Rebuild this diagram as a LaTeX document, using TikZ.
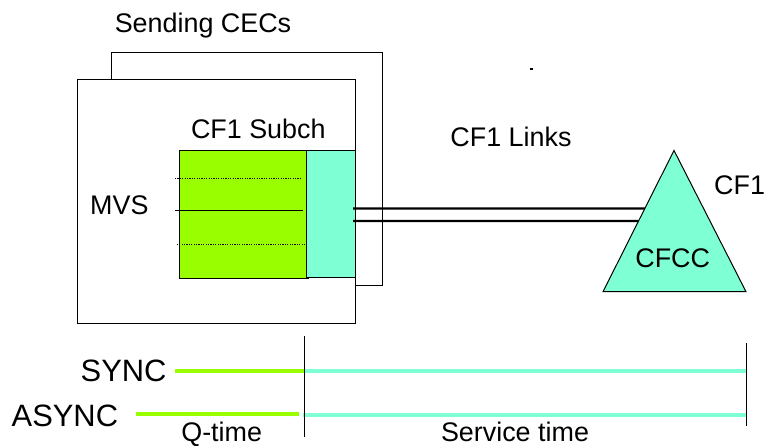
\documentclass[tikz,border=0pt]{standalone}
\usepackage{fontspec}
\setmainfont{Liberation Sans}
\usetikzlibrary{calc}
\definecolor{limegr}{RGB}{153,255,0}
\definecolor{aqua}{RGB}{127,255,212}
\tikzset{
  lbl/.style={inner sep=0pt, anchor=base, font=\fontsize{27}{30}\selectfont},
  biglbl/.style={inner sep=0pt, anchor=base east, font=\fontsize{31}{34}\selectfont},
  thin/.style={draw=black, line width=1bp},
  link/.style={draw=black, line width=2.4bp},
  qline/.style={draw=limegr, line width=3.6bp},
  sline/.style={draw=aqua, line width=4bp},
}
\begin{document}
\begin{tikzpicture}[x=1bp,y=-1bp]
\useasboundingbox (0,0) rectangle (765,446);
% back CEC box (partially hidden)
\coordinate (bk1) at (111.7,79.3);
\coordinate (bk2) at (111.7,52.7);
\coordinate (bk3) at (382.3,52.7);
\coordinate (bk4) at (382.3,286);
\coordinate (bk5) at (353,286);
\draw[thin] (bk1) -- (bk2) -- (bk3) -- (bk4) -- (bk5);
% front CEC box
\draw[thin, fill=white] (77.3,79.3) coordinate (fr1) rectangle (355.3,323.3) coordinate (fr2);
% subchannel boxes
\draw[thin, fill=limegr] (179.3,151) rectangle (308.3,278.3);
\draw[thin, fill=aqua] (306.7,151) rectangle (355.3,277.3);
\coordinate (d1a) at (175,179);   \coordinate (d1b) at (302,179);
\coordinate (s1a) at (175,210.7); \coordinate (s1b) at (303,210.7);
\coordinate (d2a) at (176.7,245); \coordinate (d2b) at (307,245);
\draw[black, line width=1bp, dash pattern=on 1.2bp off 1.2bp] (d1a) -- (d1b);
\draw[thin] (s1a) -- (s1b);
\draw[black, line width=1bp, dash pattern=on 1.2bp off 1.2bp] (d2a) -- (d2b);
% CF triangle
\coordinate (apex) at (674,150.5);
\coordinate (bl) at (603,291.7);
\coordinate (br) at (746,291.7);
\draw[thin, fill=aqua] (apex) -- (bl) -- (br) -- cycle;
% links
\coordinate (l1a) at (353,208.5);
\coordinate (l2a) at (353,221);
\coordinate (l1b) at ($(apex)!0.4108!(bl)$);
\coordinate (l2b) at ($(apex)!0.4993!(bl)$);
\draw[link] (l1a) -- (l1b);
\draw[link] (l2a) -- (l2b);
% tiny mark
\coordinate (m1) at (529.5,69);
\coordinate (m2) at (533,69);
\draw[black, line width=1.3bp] (m1) -- (m2);
% labels
\node[lbl] (sending) at (203,33) {Sending CECs};
\node[lbl] (subch) at (258.3,138.5) {CF1 Subch};
\node[lbl] (mvs) at (119.3,215) {MVS};
\node[lbl] (links) at (511,146.5) {CF1 Links};
\node[lbl, anchor=base west] (cf1) at (714,195) {CF1};
\node[lbl] (cfcc) at (672.7,268) {CFCC};
% timelines
\node[biglbl] (sync) at (166.7,381.5) {SYNC};
\node[biglbl] (async) at (118.3,426.5) {ASYNC};
\coordinate (v1t) at (304,336);   \coordinate (v1b) at (304,437.3);
\coordinate (v2t) at (746.7,343); \coordinate (v2b) at (746.7,426);
\coordinate (sg1) at (175,370.7); \coordinate (sg2) at (305,370.7);
\coordinate (sc1) at (303,370.7); \coordinate (sc2) at (746.7,370.7);
\coordinate (ag1) at (136,413.7); \coordinate (ag2) at (299.3,413.7);
\coordinate (ac1) at (303,414.5); \coordinate (ac2) at (746.7,414.5);
\draw[sline] (sc1) -- (sc2);
\draw[sline] (ac1) -- (ac2);
\draw[qline] (sg1) -- (sg2);
\draw[qline] (ag1) -- (ag2);
\draw[thin] (v1t) -- (v1b);
\draw[thin] (v2t) -- (v2b);
\node[lbl] (qtime) at (221.7,441) {Q-time};
\node[lbl] (stime) at (515,441) {Service time};
\end{tikzpicture}
\end{document}
